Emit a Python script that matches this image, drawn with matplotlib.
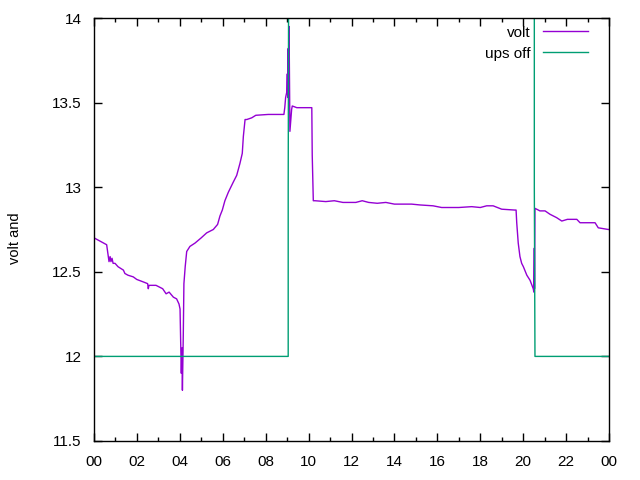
import matplotlib
matplotlib.use("Agg")
import matplotlib.pyplot as plt
from matplotlib.ticker import MultipleLocator, FuncFormatter

# hours since midnight, volts
volt_hours = [
    0.01, 0.59, 0.70, 0.75, 0.79, 0.84, 0.89, 0.98, 1.12, 1.37, 1.44, 1.58,
    1.83, 1.99, 2.30, 2.50, 2.53, 2.56, 2.76, 2.89, 3.20, 3.36, 3.50, 3.70,
    3.85, 3.96, 4.01, 4.04, 4.07, 4.10, 4.12, 4.16, 4.19, 4.25, 4.32, 4.47,
    4.71, 4.99, 5.25, 5.56, 5.76, 5.87, 5.98, 6.10, 6.26, 6.49, 6.65, 6.80,
    6.91, 6.96, 7.04, 7.12, 7.35, 7.54, 8.12, 8.85, 8.89, 8.93, 8.98, 9.01,
    9.03, 9.05, 9.07, 9.09, 9.13, 9.21, 9.24, 9.45, 10.15, 10.17, 10.22,
    10.3, 10.8, 11.2, 11.6, 12.2, 12.5, 12.8, 13.2, 13.6, 14.0, 14.8, 15.2,
    15.8, 16.2, 17.0, 17.6, 18.0, 18.3, 18.6, 19.0, 19.6, 19.67, 19.70,
    19.77, 19.85, 19.93, 20.01, 20.17, 20.32, 20.47, 20.50, 20.52, 20.53,
    20.55, 20.63, 20.78, 21.02, 21.25, 21.56, 21.80, 22.06, 22.50, 22.65,
    23.35, 23.50, 23.97, 24.0,
]
volt_values = [
    12.70, 12.66, 12.56, 12.59, 12.56, 12.58, 12.55, 12.55, 12.53, 12.51, 12.49, 12.48,
    12.47, 12.455, 12.44, 12.43, 12.40, 12.42, 12.42, 12.42, 12.40, 12.37, 12.38, 12.35,
    12.34, 12.31, 12.28, 12.08, 11.90, 12.05, 11.80, 12.12, 12.43, 12.53, 12.62, 12.65,
    12.67, 12.70, 12.73, 12.75, 12.78, 12.83, 12.865, 12.92, 12.97, 13.03, 13.07, 13.14,
    13.20, 13.30, 13.40, 13.40, 13.41, 13.425, 13.43, 13.43, 13.47, 13.53, 13.56, 13.67,
    13.53, 13.82, 13.53, 13.95, 13.33, 13.46, 13.48, 13.47, 13.47, 13.19, 12.92,
    12.92, 12.915, 12.92, 12.91, 12.91, 12.92, 12.91, 12.905, 12.91, 12.90, 12.90, 12.895,
    12.89, 12.88, 12.88, 12.885, 12.88, 12.89, 12.89, 12.87, 12.865, 12.865, 12.79,
    12.67, 12.59, 12.55, 12.53, 12.48, 12.45, 12.40, 12.38, 12.64, 12.40,
    12.875, 12.87, 12.86, 12.86, 12.84, 12.82, 12.80, 12.81, 12.81, 12.79,
    12.79, 12.76, 12.75, 12.75,
]

ups_hours = [0.0, 9.05, 9.05, 9.10, 20.52, 20.52, 20.55, 24.0]
ups_values = [12.0, 12.0, 13.0, 16.0, 16.0, 13.0, 12.0, 12.0]

plt.rcParams["font.family"] = ["Liberation Sans", "DejaVu Sans"]

fig = plt.figure(figsize=(6.4, 4.8), dpi=100)
ax = fig.add_axes([94 / 640, 39 / 480, 515 / 640, 423 / 480])

ax.plot(volt_hours, volt_values, color="#9400d3", linewidth=1.0, label="volt")
ax.plot(ups_hours, ups_values, color="#009e73", linewidth=1.0, label="ups off")

ax.set_xlim(0, 24)
ax.set_ylim(11.5, 14)
ax.xaxis.set_major_locator(MultipleLocator(2))
ax.xaxis.set_minor_locator(MultipleLocator(1))
ax.yaxis.set_major_locator(MultipleLocator(0.5))
ax.xaxis.set_major_formatter(FuncFormatter(lambda v, p: "%02d" % (int(round(v)) % 24)))
ax.yaxis.set_major_formatter(FuncFormatter(lambda v, p: ("%g" % v)))

ax.tick_params(which="both", direction="in", top=True, right=True, labelsize=11)
ax.tick_params(which="major", length=6, width=1)
ax.tick_params(which="minor", length=3, width=1)
ax.tick_params(axis="x", pad=10)
ax.tick_params(axis="y", pad=9)
for sp in ax.spines.values():
    sp.set_linewidth(1)

fig.text(15 / 640, 1 - 238 / 480, "volt and", rotation=90, ha="center", va="center", fontsize=10.5)

ax.legend(loc="upper right", frameon=False, markerfirst=False, fontsize=11,
          handlelength=3.0, labelspacing=0.45, borderaxespad=0.1,
          bbox_to_anchor=(0.975, 1.0))

fig.savefig("out.png", dpi=100)
